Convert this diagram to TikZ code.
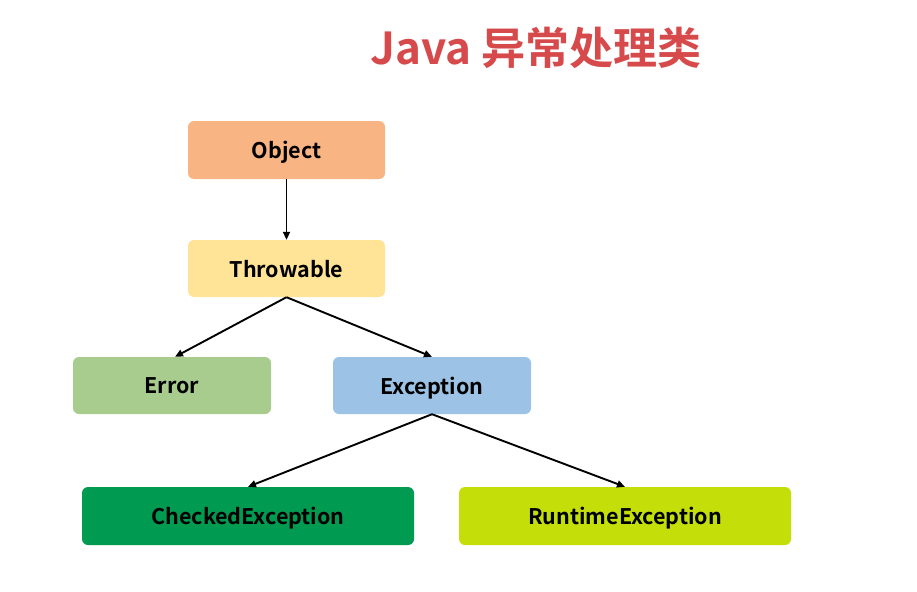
\documentclass[tikz,border=0pt]{standalone}
\usepackage{fontspec}
\setmainfont{Noto Sans CJK SC}[BoldFont={* Bold}]
\newfontfamily\cjkbold{Noto Sans CJK SC Bold}
\usetikzlibrary{arrows.meta}
\definecolor{objc}{HTML}{F8B483}
\definecolor{thrc}{HTML}{FFE497}
\definecolor{errc}{HTML}{A8CC8E}
\definecolor{excc}{HTML}{9CC2E5}
\definecolor{chkc}{HTML}{009A50}
\definecolor{runc}{HTML}{C4DE0A}
\definecolor{titc}{HTML}{D64A4C}
\tikzset{
  box/.style={rounded corners=6pt, inner sep=0pt, align=center,
    font=\cjkbold\fontsize{21.5}{24}\selectfont, text=black,
    text depth=-2.5pt},
  conn/.style={-{Triangle[length=8pt,width=7pt]}, line width=1.9pt, black}
}
\begin{document}
\begin{tikzpicture}[x=1pt,y=-1pt]
\useasboundingbox (0,0) rectangle (917,591);
\node[font=\cjkbold\fontsize{44}{50}\selectfont, text=titc] (title) at (536,48) {Java 异常处理类};
\node[box, fill=objc, minimum width=197pt, minimum height=58pt] (obj) at (286.5,150) {Object};
\node[box, fill=thrc, minimum width=197pt, minimum height=57pt] (thr) at (286.5,268.5) {Throwable};
\node[box, fill=errc, minimum width=198pt, minimum height=57pt] (err) at (172,385.5) {Error};
\node[box, fill=excc, minimum width=198pt, minimum height=57pt] (exc) at (432,385.5) {Exception};
\node[box, fill=chkc, minimum width=332pt, minimum height=58pt] (chk) at (248,516) {CheckedException};
\node[box, fill=runc, minimum width=332pt, minimum height=58pt] (run) at (625,516) {RuntimeException};
\draw[conn] (obj.south) -- (thr.north);
\draw[conn] (thr.south) -- ([xshift=3pt]err.north);
\draw[conn] (thr.south) -- (exc.north);
\draw[conn] (exc.south) -- (chk.north);
\draw[conn] (exc.south) -- (run.north);
\end{tikzpicture}
\end{document}
